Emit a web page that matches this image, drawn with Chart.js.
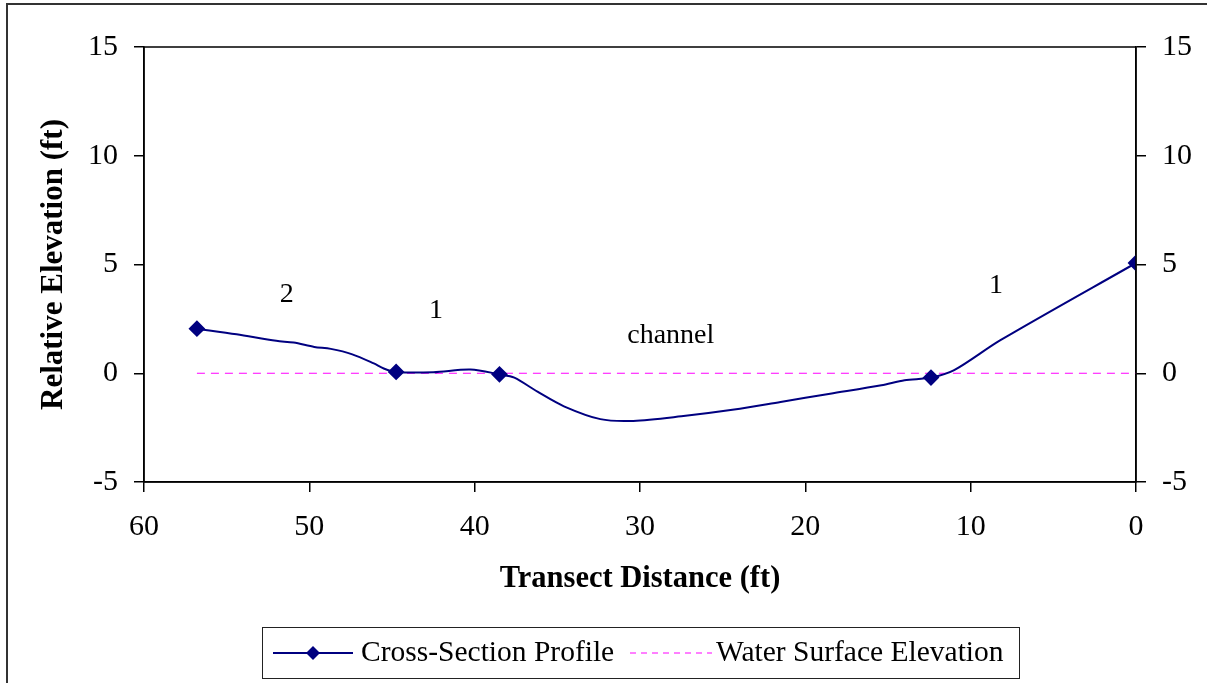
<!DOCTYPE html>
<html>
<head>
<meta charset="utf-8">
<script src="https://cdn.jsdelivr.net/npm/chart.js@4/dist/chart.umd.min.js"></script>
<style>
    html, body { margin: 0; padding: 0; background: #fff; }
    #wrap { position: relative; width: 1207px; height: 683px; }
</style>
</head>
<body>
<div id="wrap"><canvas id="xsChart" width="1207" height="683"></canvas></div>
<script>
// cross-section survey
const distance  = [56.8, 54.4, 52.0, 50.95, 49.7, 48.7, 47.4, 46.1, 45.5, 44.75, 42.5, 40.25, 38.5, 37.6, 36.2, 34.6, 32.4, 30.4, 27.5, 24.3, 21.5, 18.5, 15.4, 14.0, 12.4, 11.0, 8.2, 0];
const elevation = [2.05, 1.79, 1.49, 1.41, 1.21, 1.12, 0.87, 0.45, 0.22, 0.06, 0.05, 0.17, -0.05, -0.2, -0.85, -1.52, -2.11, -2.19, -1.98, -1.67, -1.32, -0.94, -0.55, -0.32, -0.2, 0.14, 1.52, 5.07];
const surveyed  = [56.8, 44.75, 38.5, 12.4, 0];   // points shown with a marker

const wsDistance  = [56.8, 0];
const wsElevation = [0, 0];

const xTicks = [60, 50, 40, 30, 20, 10, 0];
const yTicks = [-5, 0, 5, 10, 15];

const zoneLabels = ['2', '1', 'channel', '1'];
const zoneX = [51.37, 42.34, 28.14, 8.47];
const zoneY = [3.28, 2.54, 1.40, 3.69];

const seriesNames = ['Cross-Section Profile', 'Water Surface Elevation'];

const NAVY = '#000080';
const PINK = '#FF00FF';
const SERIF = '"Liberation Serif", "Times New Roman", serif';

// plot box, zone labels, outer frame and boxed legend
const decorations = {
    id: 'decorations',
    afterDraw(chart) {
        const ctx = chart.ctx;
        const a = chart.chartArea;
        const xs = chart.scales.x, ys = chart.scales.y;
        ctx.save();

        ctx.strokeStyle = '#000';
        ctx.lineWidth = 1.5;
        ctx.strokeRect(a.left, a.top, a.right - a.left, a.bottom - a.top);

        ctx.font = '28px ' + SERIF;
        ctx.fillStyle = '#000';
        ctx.textAlign = 'center';
        ctx.textBaseline = 'alphabetic';
        zoneLabels.forEach((t, i) => {
            ctx.fillText(t, xs.getPixelForValue(zoneX[i]), ys.getPixelForValue(zoneY[i]));
        });

        // chart frame
        ctx.strokeStyle = '#333';
        ctx.lineWidth = 2;
        ctx.strokeRect(7, 4, 1300, 800);

        // legend
        ctx.strokeStyle = '#222';
        ctx.lineWidth = 1;
        ctx.strokeRect(262.5, 627.5, 757, 51);
        const ly = 653;
        ctx.strokeStyle = NAVY;
        ctx.lineWidth = 2;
        ctx.beginPath(); ctx.moveTo(273, ly); ctx.lineTo(353, ly); ctx.stroke();
        ctx.fillStyle = NAVY;
        ctx.beginPath();
        ctx.moveTo(313, ly - 7); ctx.lineTo(320, ly); ctx.lineTo(313, ly + 7); ctx.lineTo(306, ly);
        ctx.closePath(); ctx.fill();
        ctx.strokeStyle = PINK;
        ctx.lineWidth = 1;
        ctx.setLineDash([6, 5]);
        ctx.beginPath(); ctx.moveTo(630, ly); ctx.lineTo(712, ly); ctx.stroke();
        ctx.setLineDash([]);
        ctx.fillStyle = '#000';
        ctx.textAlign = 'left';
        ctx.textBaseline = 'middle';
        ctx.font = '29.5px ' + SERIF;
        ctx.fillText(seriesNames[0], 361, ly);
        ctx.fillText(seriesNames[1], 716, ly);

        ctx.restore();
    }
};

const tickFont = { family: SERIF, size: 30 };
const xTitleFont = { family: SERIF, size: 30.5, weight: 'bold' };
const yTitleFont = { family: SERIF, size: 31, weight: 'bold' };

new Chart(document.getElementById('xsChart'), {
    type: 'line',
    data: {
        datasets: [
            {
                label: seriesNames[0],
                data: distance.map((d, i) => ({ x: d, y: elevation[i] })),
                borderColor: NAVY,
                backgroundColor: NAVY,
                borderWidth: 2,
                tension: 0.3,
                pointStyle: 'rectRot',
                pointRadius: distance.map(d => surveyed.includes(d) ? 7 : 0),
                pointBackgroundColor: NAVY,
                pointBorderColor: NAVY,
                order: 1
            },
            {
                label: seriesNames[1],
                data: wsDistance.map((d, i) => ({ x: d, y: wsElevation[i] })),
                borderColor: PINK,
                borderWidth: 1.2,
                borderDash: [8, 6],
                pointRadius: 0,
                order: 2
            }
        ]
    },
    options: {
        responsive: false,
        animation: false,
        layout: { padding: { top: 47, left: 0, right: 0, bottom: 83 } },
        plugins: {
            legend: { display: false },
            tooltip: { enabled: false }
        },
        scales: {
            x: {
                type: 'linear',
                reverse: true,
                min: 0, max: 60,
                afterBuildTicks: s => { s.ticks = xTicks.map(v => ({ value: v })); },
                afterFit: s => { s.height = 118; },
                grid: { display: true, drawOnChartArea: false, tickLength: 10, color: '#000', lineWidth: 1.5 },
                border: { display: true, color: '#000', width: 1.5 },
                ticks: { color: '#000', font: tickFont, padding: 17, maxRotation: 0 },
                title: { display: true, text: 'Transect Distance (ft)', color: '#000', font: xTitleFont, padding: { top: 0, bottom: 3 } }
            },
            y: {
                position: 'left',
                min: -5, max: 15,
                afterBuildTicks: s => { s.ticks = yTicks.map(v => ({ value: v })); },
                afterFit: s => { s.width = 144; },
                grid: { display: true, drawOnChartArea: false, tickLength: 10, color: '#000', lineWidth: 1.5 },
                border: { display: true, color: '#000', width: 1.5 },
                ticks: { color: '#000', font: tickFont, padding: 16 },
                title: { display: true, text: 'Relative Elevation (ft)', color: '#000', font: yTitleFont, padding: { top: 35, bottom: 0 } }
            },
            y2: {
                position: 'right',
                min: -5, max: 15,
                afterBuildTicks: s => { s.ticks = yTicks.map(v => ({ value: v })); },
                afterFit: s => { s.width = 71; },
                grid: { display: true, drawOnChartArea: false, tickLength: 10, color: '#000', lineWidth: 1.5 },
                border: { display: true, color: '#000', width: 1.5 },
                ticks: { color: '#000', font: tickFont, padding: 16 }
            }
        }
    },
    plugins: [decorations]
});
</script>
</body>
</html>
